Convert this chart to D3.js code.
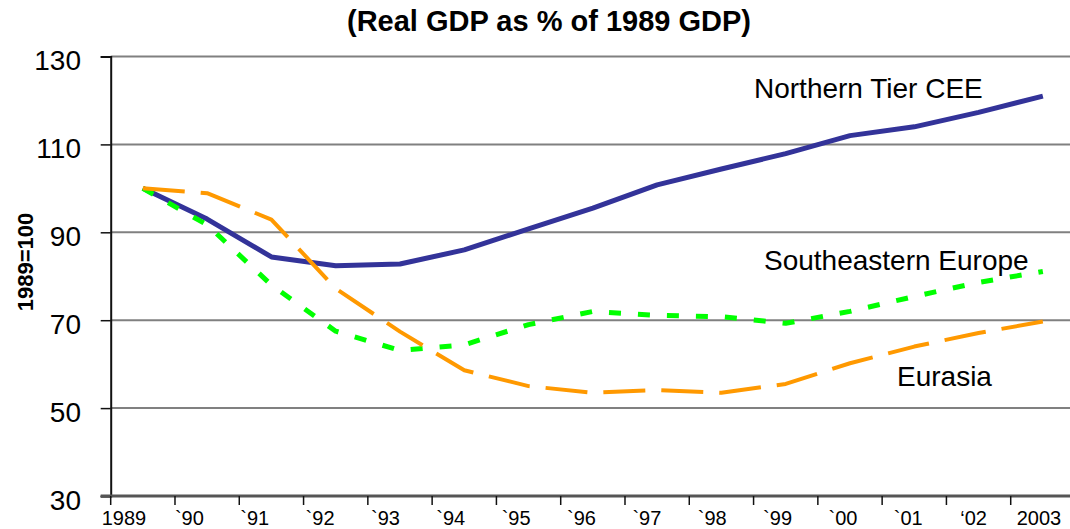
<!DOCTYPE html>
<html>
<head>
<meta charset="utf-8">
<script src="https://cdn.jsdelivr.net/npm/d3@7"></script>
<style>
  body { margin: 0; background: #fff; }
  svg { display: block; font-family: "Liberation Sans", Arial, sans-serif; }
</style>
</head>
<body>
<svg width="1070" height="529"></svg>
<script>
// data (1989 = 100)
const years = ["1989", "`90", "`91", "`92", "`93", "`94", "`95", "`96", "`97", "`98", "`99", "`00", "`01", "\u201802", "2003"];
const northernTier = [100, 93.0, 84.4, 82.4, 82.8, 86.0, 90.8, 95.5, 100.8, 104.4, 107.9, 112.0, 114.0, 117.3, 121.0];
const southeastern = [100, 91.7, 78.0, 67.5, 63.1, 64.4, 69.0, 72.0, 71.1, 70.8, 69.3, 72.0, 75.4, 78.6, 81.1];
const eurasia = [100, 98.9, 92.9, 77.2, 67.4, 58.6, 55.0, 53.5, 54.1, 53.5, 55.5, 60.2, 64.0, 67.1, 69.7];
const yTicks = [30, 50, 70, 90, 110, 130];

const series = [
  { name: "Northern Tier CEE", values: northernTier, color: "#333399", width: 5, dash: null },
  { name: "Southeastern Europe", values: southeastern, color: "#00ff00", width: 5, dash: "12,17" },
  { name: "Eurasia", values: eurasia, color: "#ff9900", width: 4, dash: "42,16" }
];

const svg = d3.select("svg");
// plot box (right edge runs just past the window, as in the original)
const plotL = 110.7, plotR = 1075, plotT = 56.5, plotB = 496;

const x = d3.scaleBand().domain(years).range([plotL, plotR]);
const xLabel = d3.scalePoint().domain(years).range([124, 1039]); // labels sit a bit left of band centres
const y = d3.scaleLinear().domain([30, 130]).range([plotB, plotT]);

// title
svg.append("text")
  .attr("x", 549).attr("y", 31)
  .attr("text-anchor", "middle")
  .style("font-size", "29px").style("font-weight", "bold")
  .text("(Real GDP as % of 1989 GDP)");

// y axis title
svg.append("text")
  .attr("transform", "translate(33,262) rotate(-90)")
  .attr("text-anchor", "middle")
  .style("font-size", "22px").style("font-weight", "bold")
  .text("1989=100");

// grid lines
svg.append("g").selectAll("line")
  .data(yTicks.filter(d => d > 30))
  .join("line")
  .attr("x1", plotL).attr("x2", plotR)
  .attr("y1", d => y(d)).attr("y2", d => y(d))
  .attr("stroke", "#808080").attr("stroke-width", 2);

// y axis
const yAxis = svg.append("g")
  .attr("transform", `translate(${plotL},0)`)
  .call(d3.axisLeft(y).tickValues(yTicks).tickSize(10).tickPadding(20));
yAxis.select(".domain").attr("stroke", "#111").attr("stroke-width", 2);
yAxis.selectAll(".tick line").attr("stroke", "#111").attr("stroke-width", 1.5);
yAxis.selectAll(".tick text")
  .attr("x", 81 - plotL).attr("dy", "0.48em")
  .style("font-size", "28px").attr("fill", "#000").attr("font-family", null);

// x axis: line, ticks at band edges, labels
const xg = svg.append("g");
xg.append("line")
  .attr("x1", plotL - 10).attr("x2", plotR)
  .attr("y1", plotB).attr("y2", plotB)
  .attr("stroke", "#555").attr("stroke-width", 3);
xg.selectAll("line.tk")
  .data(years)
  .join("line")
  .attr("class", "tk")
  .attr("x1", d => x(d)).attr("x2", d => x(d))
  .attr("y1", plotB).attr("y2", plotB + 9)
  .attr("stroke", "#111").attr("stroke-width", 1.5);
xg.selectAll("text")
  .data(years)
  .join("text")
  .attr("x", d => xLabel(d)).attr("y", 525)
  .attr("text-anchor", "middle")
  .style("font-size", "20px")
  .text(d => d);

// series lines
const line = d3.line()
  .x((d, i) => x(years[i]) + x.bandwidth() / 2)
  .y(d => y(d));

svg.append("g").selectAll("path")
  .data(series)
  .join("path")
  .attr("d", d => line(d.values))
  .attr("fill", "none")
  .attr("stroke", d => d.color)
  .attr("stroke-width", d => d.width)
  .attr("stroke-dasharray", d => d.dash)
  .attr("stroke-linejoin", "round");

// series labels
const labelPos = [[754, 98], [764, 270], [897, 386]];
svg.append("g").selectAll("text")
  .data(series)
  .join("text")
  .attr("x", (d, i) => labelPos[i][0]).attr("y", (d, i) => labelPos[i][1])
  .style("font-size", "28px")
  .text(d => d.name);
</script>
</body>
</html>
